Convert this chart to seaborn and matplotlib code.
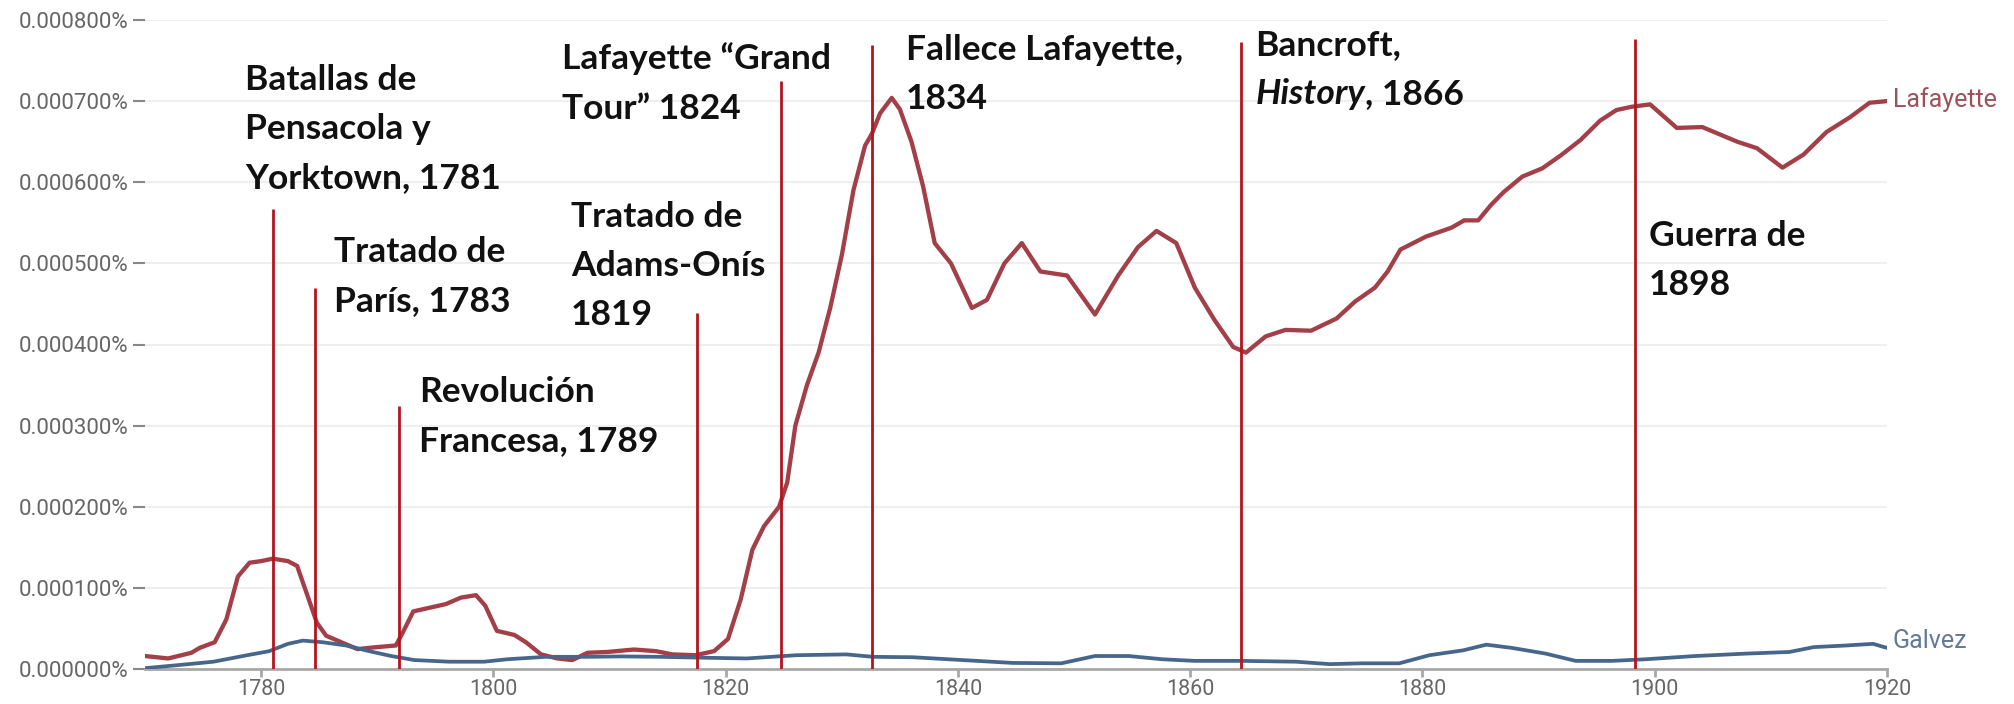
import numpy as np
import pandas as pd
import matplotlib
matplotlib.use("Agg")
import matplotlib.pyplot as plt
import seaborn as sns

# Ngram-style frequencies (units of 0.0001 %)
lafayette_years = [1770, 1772, 1774, 1774.7, 1776, 1777, 1778, 1779, 1780, 1781,
                   1782.3, 1783.1, 1784, 1784.8, 1785.6, 1786.9, 1788.3, 1789.6,
                   1791.6, 1792.2, 1793.1, 1794.5, 1795.9, 1797.2, 1798.5, 1799.3,
                   1800.3, 1801.8, 1802.8, 1804.1, 1805.5, 1806.8, 1808.1, 1809.8,
                   1812.1, 1814, 1815.4, 1817.4, 1819, 1820.2, 1821.3, 1822.3,
                   1823.3, 1824.6, 1825.3, 1826, 1827, 1828, 1829, 1830, 1831, 1832,
                   1832.6, 1833.3, 1834.3, 1835, 1836, 1837, 1838, 1839.4, 1841.2,
                   1842.5, 1844, 1845.5, 1847.1, 1849.4, 1851.8, 1853.8, 1855.5,
                   1857.1, 1858.8, 1860.4, 1862.1, 1863.7, 1864.8, 1866.5, 1868.2,
                   1870.4, 1872.6, 1874.2, 1875.9, 1877, 1878.1, 1880.3, 1882.5,
                   1883.6, 1884.8, 1885.9, 1887, 1888.6, 1890.3, 1891.9, 1893.6,
                   1895.3, 1896.7, 1898, 1899.6, 1901.9, 1904.1, 1907.1, 1908.8,
                   1911, 1912.8, 1914.8, 1916.8, 1918.5, 1920]
lafayette_vals = [0.16, 0.13, 0.20, 0.26, 0.33, 0.61, 1.14, 1.31, 1.33, 1.36,
                  1.33, 1.27, 0.90, 0.57, 0.41, 0.33, 0.245, 0.265,
                  0.29, 0.45, 0.71, 0.755, 0.80, 0.88, 0.91, 0.78,
                  0.47, 0.42, 0.33, 0.18, 0.13, 0.11, 0.20, 0.21,
                  0.24, 0.22, 0.18, 0.17, 0.22, 0.37, 0.86, 1.47,
                  1.76, 2.00, 2.30, 3.0, 3.5, 3.9, 4.45, 5.1, 5.9, 6.45,
                  6.6, 6.85, 7.04, 6.9, 6.5, 5.95, 5.25, 5.0, 4.45,
                  4.55, 5.0, 5.25, 4.9, 4.85, 4.37, 4.85, 5.2,
                  5.4, 5.25, 4.7, 4.3, 3.97, 3.9, 4.1, 4.18,
                  4.17, 4.32, 4.53, 4.7, 4.9, 5.17, 5.33, 5.44,
                  5.53, 5.53, 5.72, 5.88, 6.07, 6.17, 6.33, 6.52,
                  6.76, 6.89, 6.93, 6.96, 6.67, 6.68, 6.5, 6.42,
                  6.18, 6.34, 6.62, 6.8, 6.98, 7.0]

galvez_years = [1770, 1773, 1775.9, 1778.8, 1780.7, 1782.3, 1783.6, 1785.3, 1787.3,
                1789.3, 1791.2, 1793.2, 1796.2, 1799.2, 1801.2, 1804.5, 1807.8,
                1811.1, 1814.4, 1817.7, 1821.8, 1826.1, 1830.4, 1832.7, 1836.1,
                1840.4, 1844.7, 1848.9, 1851.8, 1854.7, 1857.6, 1860.4, 1864.5,
                1869.1, 1872, 1874.8, 1878, 1880.6, 1883.5, 1885.5, 1887.7,
                1890.6, 1893.2, 1896.3, 1899.2, 1903.5, 1907.9, 1911.6, 1913.7,
                1916.5, 1918.8, 1920]
galvez_vals = [0.01, 0.05, 0.09, 0.17, 0.22, 0.31, 0.35, 0.33, 0.29,
               0.22, 0.16, 0.11, 0.09, 0.09, 0.12, 0.15, 0.15,
               0.155, 0.15, 0.14, 0.13, 0.17, 0.18, 0.15, 0.145,
               0.11, 0.075, 0.07, 0.16, 0.16, 0.12, 0.10, 0.10,
               0.09, 0.06, 0.07, 0.07, 0.17, 0.23, 0.30, 0.26,
               0.19, 0.10, 0.10, 0.12, 0.16, 0.19, 0.21, 0.27,
               0.29, 0.31, 0.26]

# historical markers: where each red line stands and how high it goes
event_years = [1781, 1784.6, 1791.9, 1817.5, 1824.8, 1832.6, 1864.4, 1898.3]
event_tops = [5.67, 4.70, 3.24, 4.39, 7.25, 7.69, 7.73, 7.77]
event_labels = [
    "Batallas de\nPensacola y\nYorktown, 1781",
    "Tratado de\nParís, 1783",
    "Revolución\nFrancesa, 1789",
    "Tratado de\nAdams-Onís\n1819",
    "Lafayette “Grand\nTour” 1824",
    "Fallece Lafayette,\n1834",
    None,  # Bancroft, drawn separately (mixed italic)
    "Guerra de\n1898",
]

y_ticks = [0, 1, 2, 3, 4, 5, 6, 7, 8]
x_ticks = [1780, 1800, 1820, 1840, 1860, 1880, 1900, 1920]

SCALE = 1e-4
RED = "#a33f48"
BLUE = "#46668c"
MARK = "#b5141d"

# label anchors (year, first-line baseline) -- layout only
label_pos = [(1778.6, 7.14), (1786.3, 5.02), (1793.6, 3.29), (1806.7, 5.45),
             (1805.9, 7.39), (1835.5, 7.51), (1865.6, 7.57), (1899.5, 5.22)]
LINE_STEP = 35.3  # points between annotation lines

sns.set_theme(style="white")
plt.rcParams["font.family"] = ["Roboto", "DejaVu Sans"]

fig = plt.figure(figsize=(20.15, 7.04), dpi=100)
ax = fig.add_axes([145 / 2015, 1 - 669 / 704, (1887 - 145) / 2015, (669 - 20) / 704])

laf = pd.DataFrame({"year": lafayette_years, "freq": np.array(lafayette_vals) * SCALE})
gal = pd.DataFrame({"year": galvez_years, "freq": np.array(galvez_vals) * SCALE})
sns.lineplot(data=laf, x="year", y="freq", color=RED, linewidth=3.1, ax=ax, zorder=3,
             solid_joinstyle="round", solid_capstyle="round")
sns.lineplot(data=gal, x="year", y="freq", color=BLUE, linewidth=2.7, ax=ax, zorder=3,
             solid_joinstyle="round", solid_capstyle="round")

ax.vlines(event_years, 0, np.array(event_tops) * SCALE, colors=MARK, linewidth=2.0, zorder=4)

ax.set_xlim(1770, 1920)
ax.set_ylim(0, 8 * SCALE)
ax.set_xticks(x_ticks)
ax.set_yticks([t * SCALE for t in y_ticks])
ax.set_yticklabels([f"{t * SCALE:.6f}%" for t in y_ticks])
ax.set_xlabel("")
ax.set_ylabel("")

ax.grid(axis="y", color="#efefef", linewidth=1.5)
ax.grid(axis="x", visible=False)
for side in ["top", "right", "left"]:
    ax.spines[side].set_visible(False)
ax.spines["bottom"].set_color("#a8a8a8")
ax.spines["bottom"].set_linewidth(2)
ax.tick_params(axis="x", colors="#a8a8a8", length=6, width=2, pad=1,
               labelcolor="#666666", labelsize=15.5, direction="out", bottom=True)
ax.tick_params(axis="y", colors="#888888", length=9, width=1.5, pad=3,
               labelcolor="#666666", labelsize=16, left=True)

txt_kw = dict(fontfamily="Lato", fontweight="bold", fontsize=25.5, color="#111111",
              va="baseline", ha="left", zorder=5)
for label, (lx, ly) in zip(event_labels, label_pos):
    if label is None:
        continue
    for i, line in enumerate(label.split("\n")):
        ax.annotate(line, xy=(lx, ly * SCALE), xytext=(0, -i * LINE_STEP),
                    textcoords="offset points", **txt_kw)

# Bancroft, *History*, 1866
bx, by = label_pos[6]
ax.annotate("Bancroft,", xy=(bx, by * SCALE), xytext=(0, 0), textcoords="offset points", **txt_kw)
hist = ax.annotate("History", xy=(bx, by * SCALE), xytext=(0, -LINE_STEP),
                   textcoords="offset points", fontstyle="italic", **txt_kw)
rest_kw = dict(txt_kw)
rest_kw["va"] = "bottom"
ax.annotate(", 1866", xy=(1, 0), xycoords=hist, **rest_kw)

# series names at the right end
ax.annotate("Lafayette", xy=(lafayette_years[-1], lafayette_vals[-1] * SCALE),
            xytext=(4, 1), textcoords="offset points", va="center", ha="left",
            fontsize=18, color="#9c5259", annotation_clip=False)
ax.annotate("Galvez", xy=(galvez_years[-1], galvez_vals[-1] * SCALE),
            xytext=(4, 5), textcoords="offset points", va="center", ha="left",
            fontsize=18, color="#627a98", annotation_clip=False)

fig.savefig("out.png", dpi=100, facecolor="white")
